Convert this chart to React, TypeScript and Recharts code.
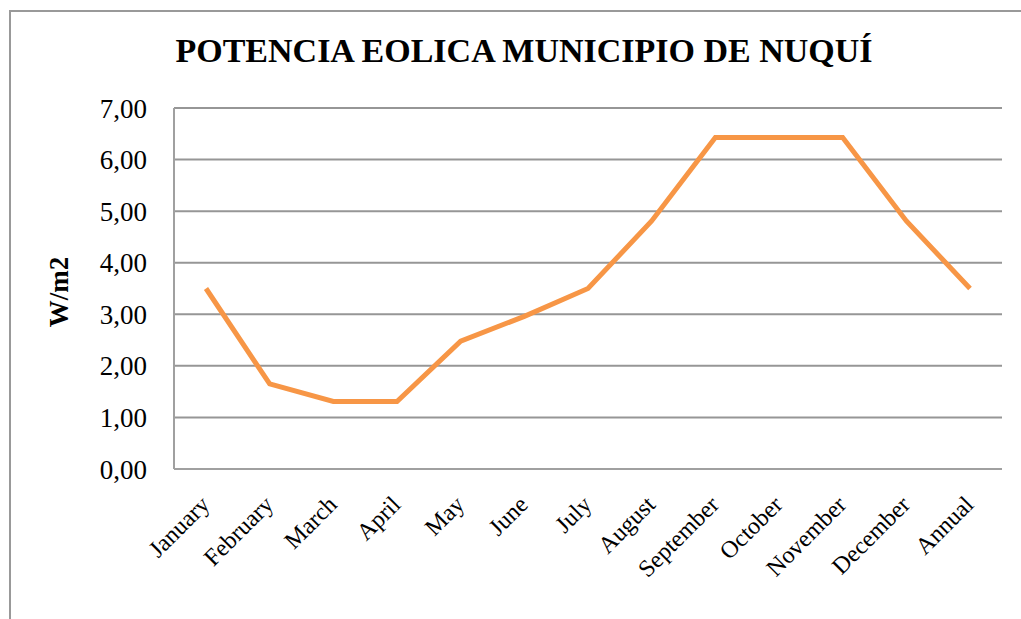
import React from 'react'
import { LineChart, Line, XAxis, YAxis, CartesianGrid } from 'recharts'

const months = [
  'January', 'February', 'March', 'April', 'May', 'June', 'July',
  'August', 'September', 'October', 'November', 'December', 'Annual',
]
const power = [3.5, 1.65, 1.31, 1.31, 2.48, 2.96, 3.5, 4.81, 6.43, 6.43, 6.43, 4.81, 3.5]
const yTicks = [0, 1, 2, 3, 4, 5, 6, 7]

const data = months.map((m, i) => ({ month: m, power: power[i] }))

const serif = '"Liberation Serif", "Times New Roman", serif'

function MonthTick({ x, y, payload }: any) {
  return (
    <g transform={`translate(${x + 5},${y + 37})`}>
      <text x={0} y={0} transform="rotate(-45)" textAnchor="end" fill="#000" fontSize={24} fontFamily={serif}>
        {payload.value}
      </text>
    </g>
  )
}

export default function App() {
  return (
    <div style={{ position: 'relative', width: 1021, height: 619, overflow: 'hidden', background: '#fff', fontFamily: serif }}>
      <style>{'body{margin:0}'}</style>
      <div
        style={{
          position: 'absolute', left: 9, top: 10, width: 1100, height: 700,
          border: '2px solid #999', boxSizing: 'border-box',
        }}
      />
      <div
        style={{
          position: 'absolute', left: 0, width: 1048, top: 34, textAlign: 'center',
          fontSize: 34, lineHeight: '34px', fontWeight: 'bold', whiteSpace: 'nowrap', color: '#000',
        }}
      >
        POTENCIA EOLICA MUNICIPIO DE NUQUÍ
      </div>
      <div
        style={{
          position: 'absolute', left: 59, top: 292, transform: 'translate(-50%,-50%) rotate(-90deg)',
          fontSize: 27, lineHeight: '27px', fontWeight: 'bold', whiteSpace: 'nowrap', color: '#000',
        }}
      >
        W/m2
      </div>
      <LineChart
        width={1021}
        height={619}
        data={data}
        margin={{ top: 108, right: 19, bottom: 0, left: 74 }}
        style={{ position: 'absolute', left: 0, top: 0 }}
      >
        <CartesianGrid vertical={false} stroke="#969696" strokeWidth={2} />
        <XAxis
          dataKey="month"
          interval={0}
          height={150}
          padding={{ left: 32, right: 32 }}
          stroke="#a0a0a0"
          strokeWidth={2}
          tickLine={false}
          tickSize={0}
          tickMargin={0}
          tick={<MonthTick />}
        />
        <YAxis
          domain={[0, 7]}
          ticks={yTicks}
          width={100}
          stroke="#a0a0a0"
          strokeWidth={2}
          tickLine={false}
          tickSize={0}
          tickMargin={27}
          tickFormatter={(v: number) => v.toFixed(2).replace('.', ',')}
          tick={{ fill: '#000', fontSize: 27, fontFamily: serif }}
        />
        <Line
          type="linear"
          dataKey="power"
          stroke="#F79646"
          strokeWidth={5}
          dot={false}
          isAnimationActive={false}
        />
      </LineChart>
    </div>
  )
}
